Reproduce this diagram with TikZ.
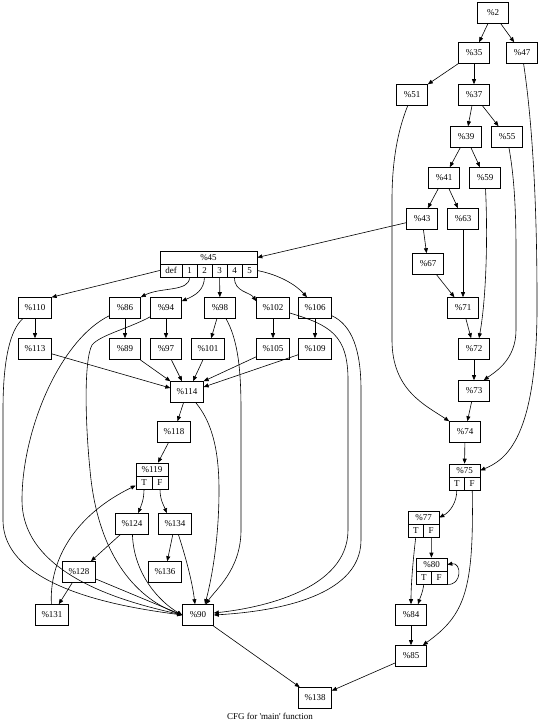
\documentclass[tikz,border=0pt]{standalone}
\usepackage{fontspec}
\setmainfont{Liberation Serif}
\usetikzlibrary{arrows.meta}
\begin{document}
\begin{tikzpicture}[
  x=1pt, y=-1pt, line width=0.6pt,
  every node/.style={font=\fontsize{9}{10}\selectfont},
  blk/.style={draw, rectangle, minimum width=31pt, minimum height=21pt,
    inner xsep=6pt, inner ysep=1pt},
  head/.style={draw, rectangle, minimum height=13pt, inner sep=0.5pt},
  fld/.style={draw, rectangle, minimum height=13pt, minimum width=15.5pt,
    inner sep=0.5pt},
  edge/.style={-{Triangle[length=5pt,width=4pt]}}
]
\useasboundingbox (0,0) rectangle (540,724);

% right column
\node[blk] (n2)  at (493,13)  {\%2};
\node[blk] (n35) at (474,53)  {\%35};
\node[blk] (n47) at (522,53)  {\%47};
\node[blk] (n51) at (412,95)  {\%51};
\node[blk] (n37) at (474,95)  {\%37};
\node[blk] (n39) at (466,137) {\%39};
\node[blk] (n55) at (507,137) {\%55};
\node[blk] (n41) at (444,178) {\%41};
\node[blk] (n59) at (485,178) {\%59};
\node[blk] (n43) at (422,219) {\%43};
\node[blk] (n63) at (463,219) {\%63};
\node[blk] (n67) at (428,264) {\%67};
\node[blk] (n71) at (463,308) {\%71};
\node[blk] (n72) at (474,349) {\%72};
\node[blk] (n73) at (474,391) {\%73};
\node[blk] (n74) at (465,432) {\%74};

% records
\node[head, minimum width=31pt] (n75) at (464.5,470.5) {\%75};
\node[fld] (n75T) at (456.75,483.5) {T};
\node[fld] (n75F) at (472.25,483.5) {F};
\node[head, minimum width=31pt] (n77) at (423.5,517.5) {\%77};
\node[fld] (n77T) at (415.75,530.5) {T};
\node[fld] (n77F) at (431.25,530.5) {F};
\node[head, minimum width=31pt] (n80) at (431.5,564.5) {\%80};
\node[fld] (n80T) at (423.75,577.5) {T};
\node[fld] (n80F) at (439.25,577.5) {F};

\node[blk] (n84)  at (411,615) {\%84};
\node[blk] (n85)  at (411,656) {\%85};
\node[blk] (n138) at (315,698) {\%138};

% switch
\node[head, minimum width=97pt] (n45) at (208.5,257.5) {\%45};
\node[fld, minimum width=22pt] (n45def) at (171,270.5) {def};
\node[fld, minimum width=15pt] (n45c1) at (189.5,270.5) {1};
\node[fld, minimum width=15pt] (n45c2) at (204.5,270.5) {2};
\node[fld, minimum width=15pt] (n45c3) at (219.5,270.5) {3};
\node[fld, minimum width=15pt] (n45c4) at (234.5,270.5) {4};
\node[fld, minimum width=15pt] (n45c5) at (249.5,270.5) {5};

\node[blk] (n110) at (35,308)  {\%110};
\node[blk] (n86)  at (125,308) {\%86};
\node[blk] (n94)  at (166,308) {\%94};
\node[blk] (n98)  at (220,308) {\%98};
\node[blk] (n102) at (273,308) {\%102};
\node[blk] (n106) at (315,308) {\%106};
\node[blk] (n113) at (35,349)  {\%113};
\node[blk] (n89)  at (125,349) {\%89};
\node[blk] (n97)  at (166,349) {\%97};
\node[blk] (n101) at (208,349) {\%101};
\node[blk] (n105) at (273,349) {\%105};
\node[blk] (n109) at (315,349) {\%109};
\node[blk] (n114) at (187,392) {\%114};
\node[blk] (n118) at (174,432) {\%118};

\node[head, minimum width=32pt] (n119) at (152,469.5) {\%119};
\node[fld, minimum width=16pt] (n119T) at (144,482.5) {T};
\node[fld, minimum width=16pt] (n119F) at (160,482.5) {F};

\node[blk] (n124) at (132,524) {\%124};
\node[blk] (n134) at (175,524) {\%134};
\node[blk] (n128) at (79,572)  {\%128};
\node[blk] (n136) at (165,572) {\%136};
\node[blk] (n131) at (52,615)  {\%131};
\node[blk] (n90)  at (198,615) {\%90};

\node (title) at (270,716) {CFG for \textquotesingle main\textquotesingle\ function};

% edges, right part
\draw[edge] (n2) -- (n35);
\draw[edge] (n2) -- (n47);
\draw[edge] (n35) -- (n51);
\draw[edge] (n35) -- (n37);
\draw[edge] (n37) -- (n39);
\draw[edge] (n37) -- (n55);
\draw[edge] (n39) -- (n41);
\draw[edge] (n39) -- (n59);
\draw[edge] (n41) -- (n43);
\draw[edge] (n41) -- (n63);
\draw[edge] (n43) -- (n67);
\draw[edge] (n43) -- (n45.east);
\draw[edge] (n63) -- (n71);
\draw[edge] (n67) -- (n71);
\draw[edge] (n71) -- (n72);
\draw[edge] (n72) -- (n73);
\draw[edge] (n73) -- (n74);
\draw[edge] (n74) -- (n75);
\draw[edge] (n59) .. controls (488,240) and (486,300) .. ([xshift=5pt]n72.north);
\draw[edge] (n55) .. controls (513,170) and (516,200) .. (516,250) -- (516,330)
  .. controls (516,360) and (495,372) .. ([xshift=-6pt]n73.north east);
\draw[edge] (n51) .. controls (398,130) and (392,160) .. (392,200) -- (392,340)
  .. controls (392,390) and (425,405) .. (n74.north west);
\draw[edge] (n47) .. controls (532,120) and (537,200) .. (537,300)
  .. controls (538,440) and (505,460) .. (n75.east);
\draw[edge] (n75T.south) .. controls (457,502) and (450,512) .. (n77.east);
\draw[edge] (n75F.south) .. controls (474,590) and (465,615) .. ([xshift=-4pt]n85.north east);
\draw[edge] (n77T.south) .. controls (413,560) and (411,585) .. (n84.north);
\draw[edge] (n77F) -- (n80);
\draw[edge] (n80T.south) .. controls (423,592) and (420,598) .. ([xshift=7pt]n84.north);
\draw[edge] (n80F.south east) .. controls (462,586) and (462,562) .. (n80.east);
\draw[edge] (n84) -- (n85);
\draw[edge] (n85) -- (n138);

% edges, switch part
\draw[edge] (n45def.west) -- (n110.north east);
\draw[edge] (n45c1.south) .. controls (190,292) and (160,287) .. (n86.north east);
\draw[edge] (n45c2.south) .. controls (204,290) and (196,295) .. ([yshift=-4pt]n94.north east);
\draw[edge] (n45c3) -- (n98);
\draw[edge] (n45c4.south) .. controls (234,292) and (250,292) .. ([yshift=-4pt]n102.north west);
\draw[edge] (n45c5.east) .. controls (280,275) and (296,285) .. ([xshift=-8pt]n106.north);
\draw[edge] (n110) -- (n113);
\draw[edge] (n86) -- (n89);
\draw[edge] (n94) -- (n97);
\draw[edge] (n98) -- (n101);
\draw[edge] (n102) -- (n105);
\draw[edge] (n106) -- (n109);
\draw[edge] (n113) -- ([yshift=4pt]n114.west);
\draw[edge] (n89) -- (n114.north west);
\draw[edge] (n97) -- ([xshift=-5pt]n114.north);
\draw[edge] (n101) -- ([xshift=6pt]n114.north);
\draw[edge] (n105) -- (n114.north east);
\draw[edge] (n109) -- ([yshift=5pt]n114.east);
\draw[edge] (n114) -- (n118);
\draw[edge] (n118) -- ([xshift=6pt]n119.north);
\draw[edge] (n119T.south) .. controls (144,500) and (141,506) .. ([xshift=6pt]n124.north);
\draw[edge] (n119F.south) .. controls (160,500) and (164,506) .. ([xshift=-8pt]n134.north);
\draw[edge] (n124) -- (n128);
\draw[edge] (n134) -- (n136);
\draw[edge] (n128) -- (n131);
\draw[edge] (n128) -- (n90.west);
\draw[edge] (n131) .. controls (49,560) and (75,515) .. ([yshift=-3pt]n119T.west);

% edges into %90
\draw[edge] (n110) .. controls (10,330) and (3,360) .. (3,410) -- (3,520)
  .. controls (3,590) and (130,608) .. (n90.west);
\draw[edge] (n86) .. controls (60,340) and (22,430) .. (22,500)
  .. controls (22,580) and (140,605) .. (n90.west);
\draw[edge] (n94) .. controls (130,328) and (100,335) .. (92,345)
  .. controls (84,360) and (85,420) .. (90,470)
  .. controls (98,560) and (140,600) .. (n90.west);
\draw[edge] (n98) .. controls (238,340) and (241,370) .. (241,410) -- (241,530)
  .. controls (241,570) and (215,590) .. ([xshift=8pt]n90.north);
\draw[edge] (n102) .. controls (330,325) and (348,335) .. (348,380) -- (348,530)
  .. controls (348,590) and (260,608) .. ([yshift=2pt]n90.east);
\draw[edge] (n106) .. controls (352,325) and (361,350) .. (361,390) -- (361,540)
  .. controls (361,600) and (265,612) .. (n90.east);
\draw[edge] (n114) .. controls (210,420) and (219,445) .. (219,490)
  .. controls (219,545) and (210,585) .. ([xshift=7pt]n90.north);
\draw[edge] (n124) .. controls (134,575) and (160,602) .. (n90.west);
\draw[edge] (n134) .. controls (185,555) and (192,580) .. ([xshift=-3pt]n90.north);
\draw[edge] (n90) -- (n138);
\end{tikzpicture}
\end{document}
